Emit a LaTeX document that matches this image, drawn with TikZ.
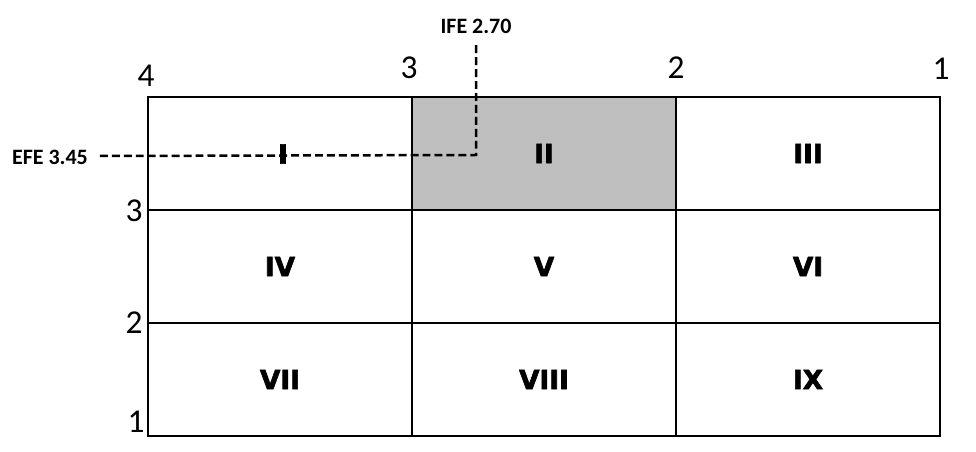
\documentclass[tikz,border=0pt]{standalone}
\usepackage{fontspec}
\setmainfont{Carlito}
\newfontfamily\heavyfont[BoldFont={DejaVu Sans Bold},
  BoldFeatures={FakeBold=2.5}]{DejaVu Sans}
\usetikzlibrary{positioning}

\begin{document}
\begin{tikzpicture}[
    x=0.02cm, y=-0.02cm,
    cell/.style={draw, line width=0.04cm, minimum width=5.28cm,
                 minimum height=2.26cm, inner sep=0pt, outer sep=0pt,
                 font=\heavyfont\bfseries\fontsize{15}{15}\selectfont},
    axis/.style={inner sep=0pt, font=\fontsize{19}{19}\selectfont},
    score/.style={inner sep=1pt, font=\bfseries\fontsize{12.5}{12.5}\selectfont},
    guide/.style={line width=0.05cm, dash pattern=on 4.5pt off 2.3pt}
  ]
  \useasboundingbox (0,0) rectangle (976,452);

  % the nine cells
  \node[cell] (c1) at (280,153.5) {};
  \node[cell, fill=black!25] (c2) at (544,153.5) {II};
  \node[cell] (c3) at (808,153.5) {III};
  \node[cell] (c4) at (280,266.5) {IV};
  \node[cell] (c5) at (544,266.5) {V};
  \node[cell] (c6) at (808,266.5) {VI};
  \node[cell] (c7) at (280,379.5) {VII};
  \node[cell] (c8) at (544,379.5) {VIII};
  \node[cell] (c9) at (808,379.5) {IX};

  % axis values
  \node[axis] (t4) at (146,76) {4};
  \node[axis] (t3) at (409,68) {3};
  \node[axis] (t2) at (676,68) {2};
  \node[axis] (t1) at (941,69) {1};
  \node[axis] (l3) at (134,211) {3};
  \node[axis] (l2) at (134,323) {2};
  \node[axis] (l1) at (136,422) {1};

  % scores
  \node[score] (efe) at (50,157) {EFE 3.45};
  \node[score] (ife) at (476,26) {IFE 2.70};
  \coordinate (bend) at (476,155);
  \draw[guide] ([xshift=0.2cm,yshift=0.02cm]efe.east) -- (bend)
    -- ([yshift=-0.18cm]ife.south);

  \node[inner sep=0pt, font=\heavyfont\bfseries\fontsize{15}{15}\selectfont]
    (mark) at (283,154) {I};
\end{tikzpicture}
\end{document}
